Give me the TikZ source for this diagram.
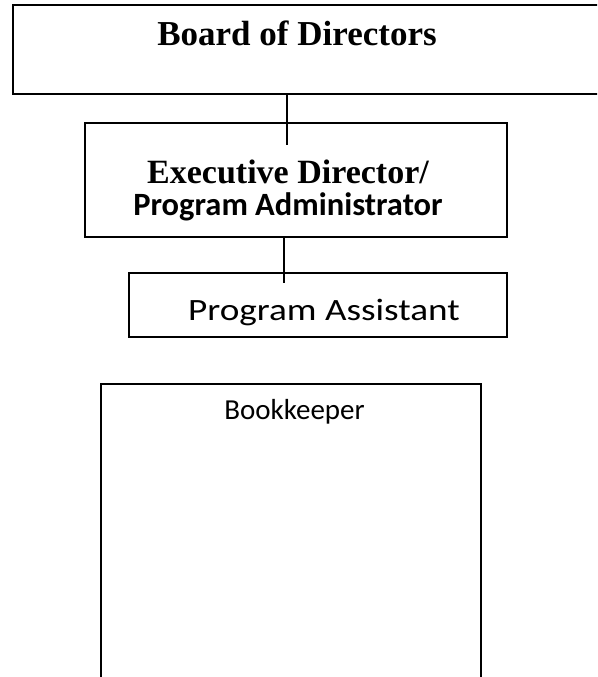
\documentclass[tikz,border=0pt]{standalone}
\usepackage{fontspec}
\setmainfont{Liberation Serif}
\newfontfamily\carlito{Carlito}
\begin{document}
\begin{tikzpicture}[x=1pt,y=-1pt,
  box/.style={draw=black, line width=1.4pt, rectangle, inner sep=0pt},
  conn/.style={draw=black, line width=1.4pt},
  serifbold/.style={font=\fontsize{35}{38}\selectfont\bfseries, anchor=base, inner sep=0pt},
  carlitotxt/.style={font=\carlito\fontsize{29}{34}\selectfont, anchor=base, inner sep=0pt}]
\clip (0,0) rectangle (597,677);
\fill[white] (0,0) rectangle (597,677);
% boxes
\node[box, minimum width=597pt, minimum height=89pt] (board) at (311.5,49.5) {};
\node[box, minimum width=422pt, minimum height=114pt] (exec) at (296,180) {};
\node[box, minimum width=378pt, minimum height=64pt] (pa) at (318,305) {};
\node[box, minimum width=380pt, minimum height=320pt] (book) at (291,544) {};
% texts
\node[serifbold] (boardtxt) at (297,46) {Board of Directors};
\node[serifbold, font=\fontsize{34}{36}\selectfont\bfseries] (exectxt1) at (288,183) {Executive Director/};
\node[carlitotxt, font=\carlito\fontsize{32.5}{34}\selectfont\bfseries] (exectxt2) at (288,215) {Program Administrator};
\node[carlitotxt, font=\carlito\fontsize{31}{34}\selectfont, xscale=1.2] (patxt) at (324,320) {Program Assistant};
\node[carlitotxt] (booktxt) at (294.5,419) {Bookkeeper};
% connectors
\coordinate (c1) at (287,145);
\coordinate (c2) at (284,283);
\draw[conn] (board.south -| c1) -- (c1);
\draw[conn] (exec.south -| c2) -- (c2);
\end{tikzpicture}
\end{document}
